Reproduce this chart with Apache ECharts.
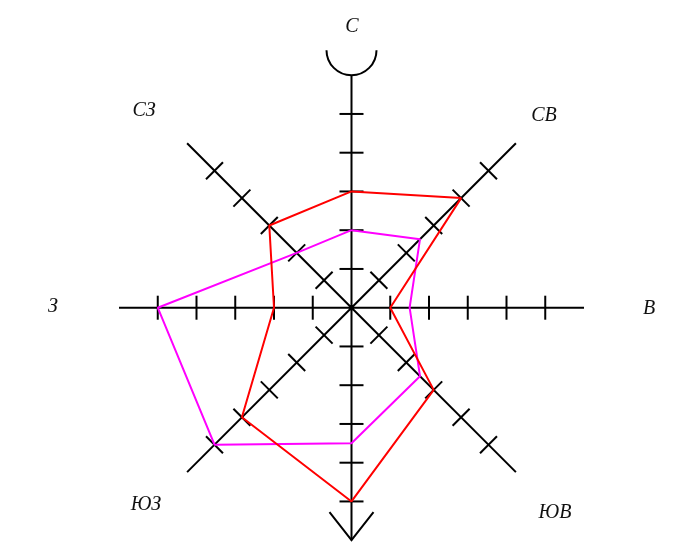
<!DOCTYPE html>
<html>
<head>
<meta charset="utf-8">
<script src="https://cdn.jsdelivr.net/npm/echarts@6/dist/echarts.min.js"></script>
<style>
  html, body { margin: 0; padding: 0; background: #fff; }
  #chart { width: 686px; height: 544px; }
</style>
</head>
<body>
<div id="chart"></div>
<script>
// Wind rose: eight compass directions, values in scale units along each ray
const directions = ['С', 'СВ', 'В', 'ЮВ', 'Ю', 'ЮЗ', 'З', 'СЗ'];
const directionAngles = [0, 45, 90, 135, 180, 225, 270, 315];
const redValues = [3, 4, 1, 3, 5, 4, 2, 3];
const magentaValues = [2, 2.5, 1.5, 2.5, 3.5, 5, 5, 2];
const tickValues = [1, 2, 3, 4, 5];
const axisMax = 6;

// Direction captions (south is marked by the arrow instead of a letter)
const captionNames = ['С', 'СВ', 'В', 'ЮВ', 'ЮЗ', 'З', 'СЗ'];
const captionPos = {
  'С': [352, 27], 'СВ': [544, 116], 'В': [649, 309], 'ЮВ': [555, 513],
  'ЮЗ': [146, 505], 'З': [53, 307], 'СЗ': [144, 111]
};

function closedRing(values) {
  const pts = values.map((v, i) => [v, directionAngles[i]]);
  pts.push([values[0], 360]);
  return pts;
}

const tickData = [];
directionAngles.forEach(a => tickValues.forEach(t => tickData.push([t, a])));

const TICK_HALF = 12;
const INK = '#000';

function renderTick(params, api) {
  const r = api.value(0), a = api.value(1);
  const p = api.coord([r, a]);
  const th = a * Math.PI / 180;
  const px = Math.cos(th), py = Math.sin(th); // perpendicular to the ray
  return {
    type: 'line',
    shape: { x1: p[0] - px * TICK_HALF, y1: p[1] - py * TICK_HALF,
             x2: p[0] + px * TICK_HALF, y2: p[1] + py * TICK_HALF },
    style: { stroke: INK, lineWidth: 2 }
  };
}

// North end carries a cup, south end an arrowhead
function renderEnds(params, api) {
  const kind = api.value(2);
  const a = api.value(1);
  const tip = api.coord([axisMax, a]);
  const th = a * Math.PI / 180;
  const dx = Math.sin(th), dy = -Math.cos(th);  // outward along ray
  const px = Math.cos(th), py = Math.sin(th);   // across ray
  if (kind === 0) {
    const R = 25;
    return {
      type: 'arc',
      shape: { cx: tip[0] + dx * R, cy: tip[1] + dy * R, r: R,
               startAngle: 0, endAngle: Math.PI, clockwise: true },
      style: { stroke: INK, lineWidth: 2, fill: null }
    };
  }
  const back = 28, side = 22;
  return {
    type: 'polyline',
    shape: { points: [
      [tip[0] - dx * back + px * side, tip[1] - dy * back + py * side],
      [tip[0], tip[1]],
      [tip[0] - dx * back - px * side, tip[1] - dy * back - py * side]
    ] },
    style: { stroke: INK, lineWidth: 2, fill: null }
  };
}

const chart = echarts.init(document.getElementById('chart'), null, { renderer: 'canvas' });

const labelFont = 'italic 20px "Liberation Serif", "DejaVu Serif", serif';

chart.setOption({
  animation: false,
  backgroundColor: '#fff',
  polar: { center: [351.5, 307.7], radius: 232.5 },
  angleAxis: {
    type: 'value', min: 0, max: 360, interval: 45, startAngle: 90, clockwise: true,
    axisLine: { show: false }, axisTick: { show: false }, axisLabel: { show: false },
    splitLine: { show: true, lineStyle: { color: INK, width: 2 } }
  },
  radiusAxis: {
    type: 'value', min: 0, max: axisMax,
    axisLine: { show: false }, axisTick: { show: false }, axisLabel: { show: false },
    splitLine: { show: false }
  },
  series: [
    {
      type: 'custom', coordinateSystem: 'polar', clip: false,
      data: tickData, renderItem: renderTick, silent: true, z: 2
    },
    {
      type: 'custom', coordinateSystem: 'polar', clip: false,
      data: [[axisMax, 0, 0], [axisMax, 180, 1]], renderItem: renderEnds, silent: true, z: 2
    },
    {
      name: 'magenta', type: 'line', coordinateSystem: 'polar',
      data: closedRing(magentaValues), symbol: 'none',
      lineStyle: { color: '#ff00ff', width: 2 }, z: 3
    },
    {
      name: 'red', type: 'line', coordinateSystem: 'polar',
      data: closedRing(redValues), symbol: 'none',
      lineStyle: { color: '#ff0000', width: 2 }, z: 4
    }
  ],
  graphic: captionNames.map(name => ({
    type: 'text',
    x: captionPos[name][0], y: captionPos[name][1],
    style: { text: name, font: labelFont, fill: '#111', align: 'center', verticalAlign: 'middle' }
  }))
});
</script>
</body>
</html>
